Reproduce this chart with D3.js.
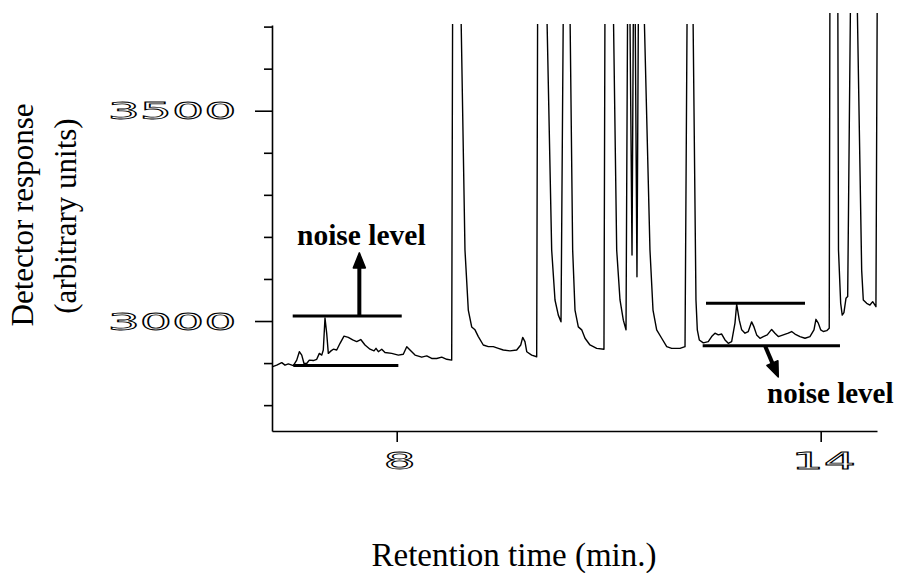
<!DOCTYPE html>
<html>
<head>
<meta charset="utf-8">
<script src="https://cdn.jsdelivr.net/npm/d3@7"></script>
<style>
body { margin: 0; background: #fff; }
</style>
</head>
<body>
<div id="container"></div>
<script>
// Chromatogram trace (min, arbitrary units)
// peaks run off the top of the frame, so their tops sit above the plot window
var retentionTime = [
	6.236, 6.302, 6.373, 6.419, 6.466, 6.537, 6.585, 6.622, 6.656, 6.688,
	6.726, 6.763, 6.820, 6.868, 6.905, 6.939, 6.961, 6.985, 7.009, 7.032,
	7.070, 7.103, 7.151, 7.198, 7.254, 7.315, 7.377, 7.434, 7.491, 7.551,
	7.622, 7.679, 7.707, 7.740, 7.788, 7.834, 7.929, 8.023, 8.093, 8.142,
	8.188, 8.259, 8.354, 8.425, 8.495, 8.566, 8.637, 8.708, 8.778,
	8.792, 8.903, 8.966, 9.013, 9.061, 9.108, 9.155, 9.225, 9.296, 9.367,
	9.438, 9.508, 9.603, 9.698, 9.755, 9.783, 9.815, 9.840, 9.910, 9.981,
	9.995, 10.117, 10.193, 10.240, 10.287, 10.325,
	10.360, 10.448, 10.490, 10.523, 10.570, 10.618, 10.665, 10.735, 10.830, 10.933,
	10.948, 11.061, 11.113, 11.160, 11.207, 11.245,
	11.269, 11.297, 11.330, 11.351, 11.372, 11.400, 11.422, 11.492, 11.584, 11.627,
	11.679, 11.750, 11.821, 11.891, 12.009, 12.080,
	12.112, 12.189, 12.235, 12.254, 12.282, 12.339,
	12.409, 12.457, 12.504, 12.551, 12.599, 12.646, 12.692, 12.740, 12.787, 12.811,
	12.848, 12.882, 12.929, 12.975, 13.023, 13.056, 13.094, 13.141, 13.188, 13.244,
	13.306, 13.353, 13.400, 13.471, 13.541, 13.589, 13.636, 13.707, 13.778, 13.848,
	13.905, 13.933, 13.966, 14.000, 14.037, 14.085, 14.121,
	14.131, 14.242, 14.252, 14.283, 14.305, 14.329, 14.358, 14.382,
	14.424, 14.513, 14.580, 14.603, 14.651, 14.697, 14.736, 14.782, 14.801
];
var response = [
	2891, 2895, 2901, 2895, 2898, 2894, 2907, 2927, 2919, 2899,
	2899, 2907, 2906, 2909, 2923, 2919, 2931, 3007, 2971, 2923,
	2929, 2933, 2931, 2947, 2964, 2961, 2955, 2951, 2956, 2943,
	2933, 2929, 2935, 2927, 2933, 2925, 2923, 2919, 2921, 2939,
	2931, 2919, 2914, 2917, 2911, 2911, 2914, 2909, 2907,
	3800, 3800, 3169, 3026, 2986, 2979, 2963, 2943, 2939, 2939,
	2935, 2931, 2929, 2931, 2943, 2961, 2951, 2927, 2919, 2915,
	3800, 3800, 3169, 3050, 3014, 2998,
	3800, 3800, 3169, 3026, 2986, 2979, 2959, 2943, 2935, 2933,
	3800, 3800, 3169, 3050, 3002, 2979,
	3800, 3800, 3157, 3800, 3800, 3105, 3800, 3800, 3169, 3026,
	2979, 2959, 2939, 2935, 2935, 2939,
	3800, 3800, 3050, 2979, 2955, 2948,
	2951, 2963, 2971, 2967, 2969, 2955, 2947, 2951, 2995, 3040,
	3002, 2979, 2971, 2975, 2998, 2986, 2967, 2959, 2963, 2967,
	2980, 2971, 2963, 2967, 2971, 2975, 2969, 2963, 2959, 2963,
	2979, 3004, 2995, 2979, 2975, 2977, 2983,
	3800, 3800, 3169, 3042, 3014, 3020, 3054, 3058,
	3800, 3800, 3121, 3050, 3042, 3038, 3046, 3034, 3800
];

// Axes
var yTickValues = [2800, 2900, 3000, 3100, 3200, 3300, 3400, 3500, 3600, 3700];
var yLabelValues = [3000, 3500];
var xTickValues = [8, 14];

// Noise level marks: [start, end, level]
var leftNoiseTop = [6.528, 8.071, 3012];
var leftNoiseBase = [6.537, 8.023, 2894];
var rightNoiseTop = [12.377, 13.778, 3042];
var rightNoiseBase = [12.330, 14.273, 2941];
// Arrows: [tFrom, vFrom, tTo, vTo]
var leftArrow = [7.471, 3012, 7.471, 3162];
var rightArrow = [13.212, 2941, 13.400, 2867];
var noiseLabel = "noise level";

var w = 901, h = 573;
var serif = "'Liberation Serif', 'Times New Roman', serif";

var svg = d3.select("#container").append("svg")
	.attr("width", w)
	.attr("height", h)
	.style("display", "block")
	.style("background", "#fff");

var x = d3.scaleLinear().domain([6.235, 14.797]).range([272, 877]);
var y = d3.scaleLinear().domain([2738.5, 3703.8]).range([431, 25]);

// plot window (the scan is slightly tilted, right part reaches a bit higher)
var clip = svg.append("defs").append("clipPath").attr("id", "plotWin");
clip.append("rect").attr("x", 260).attr("y", 24).attr("width", 500).attr("height", 420);
clip.append("rect").attr("x", 760).attr("y", 13).attr("width", 141).attr("height", 430);

// y axis
var yAxis = svg.append("g")
	.attr("transform", "translate(" + x.range()[0] + ",0)")
	.call(d3.axisLeft(y).tickValues(yTickValues).tickSize(8).tickSizeOuter(0).tickFormat(""));
yAxis.selectAll(".tick line")
	.attr("x2", function(d) { return yLabelValues.indexOf(d) >= 0 ? -17 : -8; });

// x axis
var xAxis = svg.append("g")
	.attr("transform", "translate(0," + y.range()[0] + ")")
	.call(d3.axisBottom(x).tickValues(xTickValues).tickSize(11).tickSizeOuter(0).tickFormat(""));

svg.selectAll(".domain, .tick line")
	.attr("stroke", "#000")
	.attr("stroke-width", 1.6);

// wide thin digits like the plotter font
function digits(str, cx, cy) {
	svg.append("g")
		.attr("transform", "translate(" + cx + "," + cy + ") scale(2.2,1)")
		.append("text")
		.attr("text-anchor", "middle")
		.attr("y", 8.5)
		.attr("font-family", "'DejaVu Sans', sans-serif")
		.attr("font-size", 23)
		.attr("fill", "#fff")
		.attr("stroke", "#000")
		.attr("stroke-width", 0.8)
		.text(str);
}
yLabelValues.forEach(function(v) { digits(String(v), 172, y(v)); });
xTickValues.forEach(function(t) { digits(String(t), x(t) + 3, 460); });

// trace
var line = d3.line()
	.x(function(d) { return x(d[0]); })
	.y(function(d) { return y(d[1]); });

svg.append("path")
	.datum(d3.zip(retentionTime, response))
	.attr("clip-path", "url(#plotWin)")
	.attr("d", line)
	.attr("fill", "none")
	.attr("stroke", "#000")
	.attr("stroke-width", 1.4)
	.attr("stroke-linejoin", "round");

// noise level lines
[leftNoiseTop, leftNoiseBase, rightNoiseTop, rightNoiseBase].forEach(function(n) {
	svg.append("line")
		.attr("x1", x(n[0])).attr("x2", x(n[1]))
		.attr("y1", y(n[2])).attr("y2", y(n[2]))
		.attr("stroke", "#000")
		.attr("stroke-width", 3);
});

// arrows
function arrow(a) {
	var x1 = x(a[0]), y1 = y(a[1]), x2 = x(a[2]), y2 = y(a[3]);
	var dx = x2 - x1, dy = y2 - y1, len = Math.sqrt(dx * dx + dy * dy);
	var ux = dx / len, uy = dy / len;
	var headLen = 15, headW = 6;
	var bx = x2 - ux * headLen, by = y2 - uy * headLen;
	svg.append("line")
		.attr("x1", x1).attr("y1", y1)
		.attr("x2", bx).attr("y2", by)
		.attr("stroke", "#000")
		.attr("stroke-width", 4);
	svg.append("path")
		.attr("d", "M" + x2 + "," + y2 +
			"L" + (bx - uy * headW) + "," + (by + ux * headW) +
			"L" + (bx + uy * headW) + "," + (by - ux * headW) + "Z")
		.attr("fill", "#000")
		.attr("stroke", "#000")
		.attr("stroke-width", 1.5)
		.attr("stroke-linejoin", "round");
}
arrow(leftArrow);
arrow(rightArrow);

// noise level labels
svg.append("text")
	.attr("x", x(leftArrow[2]) + 2)
	.attr("y", y(leftArrow[3]) - 8)
	.attr("text-anchor", "middle")
	.attr("font-family", serif)
	.attr("font-weight", "bold")
	.attr("font-size", 29.5)
	.text(noiseLabel);
svg.append("text")
	.attr("x", x(rightArrow[2]) + 52)
	.attr("y", y(rightArrow[3]) + 26)
	.attr("text-anchor", "middle")
	.attr("font-family", serif)
	.attr("font-weight", "bold")
	.attr("font-size", 29)
	.text(noiseLabel);

// axis titles
svg.append("text")
	.attr("transform", "translate(33,215) rotate(-90)")
	.attr("text-anchor", "middle")
	.attr("font-family", serif)
	.attr("font-size", 31)
	.text("Detector response");
svg.append("text")
	.attr("transform", "translate(76,216) rotate(-90)")
	.attr("text-anchor", "middle")
	.attr("font-family", serif)
	.attr("font-size", 31)
	.text("(arbitrary units)");
svg.append("text")
	.attr("x", 514)
	.attr("y", 566)
	.attr("text-anchor", "middle")
	.attr("font-family", serif)
	.attr("font-size", 33)
	.text("Retention time (min.)");
</script>
</body>
</html>
